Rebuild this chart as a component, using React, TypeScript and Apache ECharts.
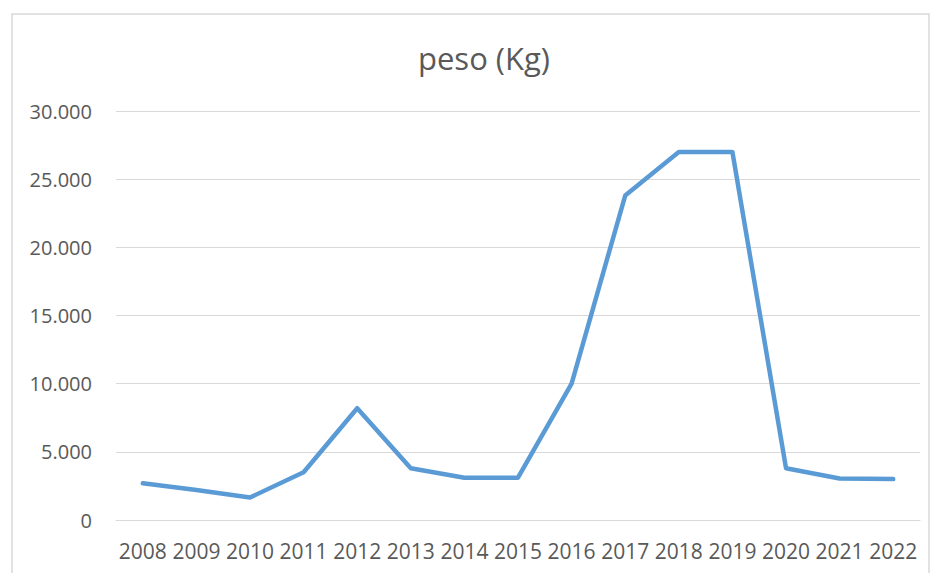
import React, { useEffect, useRef } from "react";
import * as echarts from "echarts";

const years = ["2008", "2009", "2010", "2011", "2012", "2013", "2014", "2015", "2016", "2017", "2018", "2019", "2020", "2021", "2022"];
const peso = [2700, 2200, 1650, 3500, 8200, 3800, 3100, 3100, 10000, 23800, 27000, 27000, 3800, 3050, 3000];
const title = "peso (Kg)";

const FONT = "'Open Sans', 'Noto Sans', sans-serif";

function fmt(v: number): string {
  return String(Math.round(v)).replace(/\B(?=(\d{3})+(?!\d))/g, ".");
}

export default function App() {
  const ref = useRef<HTMLDivElement>(null);
  useEffect(() => {
    if (!ref.current) return;
    const chart = echarts.init(ref.current, null, { renderer: "svg" });
    chart.setOption({
      animation: false,
      backgroundColor: "#ffffff",
      title: {
        text: title,
        left: 413,
        top: 37,
        textStyle: { fontFamily: FONT, fontSize: 31, fontWeight: "normal", color: "#595959" },
      },
      graphic: [
        {
          type: "rect",
          shape: { x: 12, y: 14, width: 917, height: 580 },
          style: { fill: "none", stroke: "#d9d9d9", lineWidth: 1.5 },
          silent: true,
        },
      ],
      grid: { left: 116, right: 15, top: 111, bottom: 53, containLabel: false },
      xAxis: {
        type: "category",
        data: years,
        boundaryGap: true,
        axisLine: { show: true, lineStyle: { color: "#d9d9d9", width: 1 } },
        axisTick: { show: false },
        axisLabel: { fontFamily: FONT, fontSize: 21, color: "#595959", margin: 20, interval: 0 },
      },
      yAxis: {
        type: "value",
        min: 0,
        max: 30000,
        interval: 5000,
        axisLine: { show: false },
        axisTick: { show: false },
        splitLine: { lineStyle: { color: "#d9d9d9", width: 1 } },
        axisLabel: { fontFamily: FONT, fontSize: 20, color: "#595959", margin: 24, formatter: (v: number) => fmt(v) },
      },
      series: [
        {
          type: "line",
          data: peso,
          showSymbol: false,
          symbol: "none",
          lineStyle: { color: "#5B9BD5", width: 4.5, join: "round", cap: "round" },
        },
      ],
    });
    return () => chart.dispose();
  }, []);
  return <div ref={ref} style={{ position: "fixed", left: 0, top: 0, width: 935, height: 573 }} />;
}
